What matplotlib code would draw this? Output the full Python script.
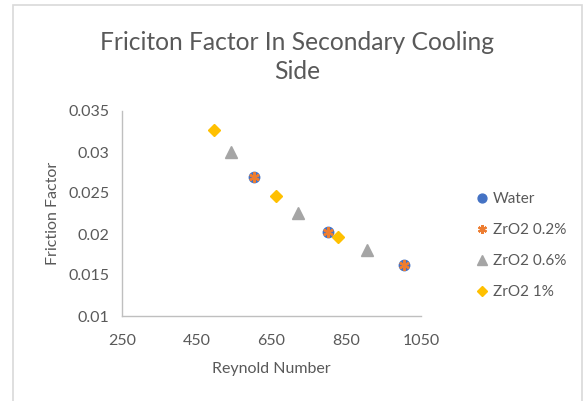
import matplotlib
matplotlib.use("Agg")
import matplotlib.pyplot as plt
from matplotlib.patches import Rectangle

plt.rcParams['font.family'] = ['Lato', 'DejaVu Sans']

# Reynold number vs friction factor, secondary cooling side
water_re = [602, 802, 1005]
water_f = [0.0270, 0.0203, 0.0162]

zro2_02_re = [602, 802, 1005]
zro2_02_f = [0.0270, 0.0203, 0.0162]

zro2_06_re = [541, 722, 906]
zro2_06_f = [0.0300, 0.0226, 0.0180]

zro2_1_re = [495, 661, 829]
zro2_1_f = [0.0327, 0.0246, 0.0196]

x_ticks = [250, 450, 650, 850, 1050]
y_ticks = [0.01, 0.015, 0.02, 0.025, 0.03, 0.035]
y_tick_labels = ["0.01", "0.015", "0.02", "0.025", "0.03", "0.035"]

TEXT = "#595959"
AXIS = "#BFBFBF"

fig = plt.figure(figsize=(5.84, 4.01), dpi=100)
ax = fig.add_axes([122 / 584, 1 - 316 / 401, (421 - 122) / 584, (316 - 111) / 401])

# chart area outline
fig.patches.append(Rectangle((13 / 584, -0.05), (582 - 13) / 584, 1.05 - 5 / 401,
                             transform=fig.transFigure, fill=False,
                             edgecolor="#D9D9D9", linewidth=1.2))

ax.plot(water_re, water_f, linestyle="none", marker="o", markersize=7.5,
        color="#4472C4", label="Water")
ax.plot(zro2_02_re, zro2_02_f, linestyle="none", marker=(6, 2, 0), markersize=7.5,
        markeredgewidth=1.6, color="#ED7D31", label="ZrO2 0.2%")
ax.plot(zro2_06_re, zro2_06_f, linestyle="none", marker="^", markersize=8,
        color="#A5A5A5", label="ZrO2 0.6%")
ax.plot(zro2_1_re, zro2_1_f, linestyle="none", marker="D", markersize=6,
        color="#FFC000", label="ZrO2 1%")

ax.set_xlim(250, 1050)
ax.set_ylim(0.01, 0.035)
ax.set_xticks(x_ticks)
ax.set_yticks(y_ticks)
ax.set_yticklabels(y_tick_labels)
ax.tick_params(length=0, labelsize=11.5, colors=TEXT)
ax.tick_params(axis="x", pad=13)
ax.tick_params(axis="y", pad=9)

for side in ("top", "right"):
    ax.spines[side].set_visible(False)
for side in ("left", "bottom"):
    ax.spines[side].set_color(AXIS)
    ax.spines[side].set_linewidth(1.0)

ax.set_xlabel("Reynold Number", fontsize=11.5, color=TEXT, labelpad=10)
ax.set_ylabel("Friction Factor", fontsize=11.5, color=TEXT, labelpad=6)

fig.text(297 / 584, 1 - 57 / 401, "Friciton Factor In Secondary Cooling\nSide",
         ha="center", va="center", fontsize=17.7, color=TEXT, linespacing=1.35)

leg = fig.legend(loc="upper left", bbox_to_anchor=(470 / 584, 1 - 186 / 401),
                 frameon=False, fontsize=11, labelcolor=TEXT, handlelength=0.8,
                 handletextpad=0.3, labelspacing=1.12, borderaxespad=0,
                 markerscale=0.85)

fig.savefig("out.png", dpi=100)
